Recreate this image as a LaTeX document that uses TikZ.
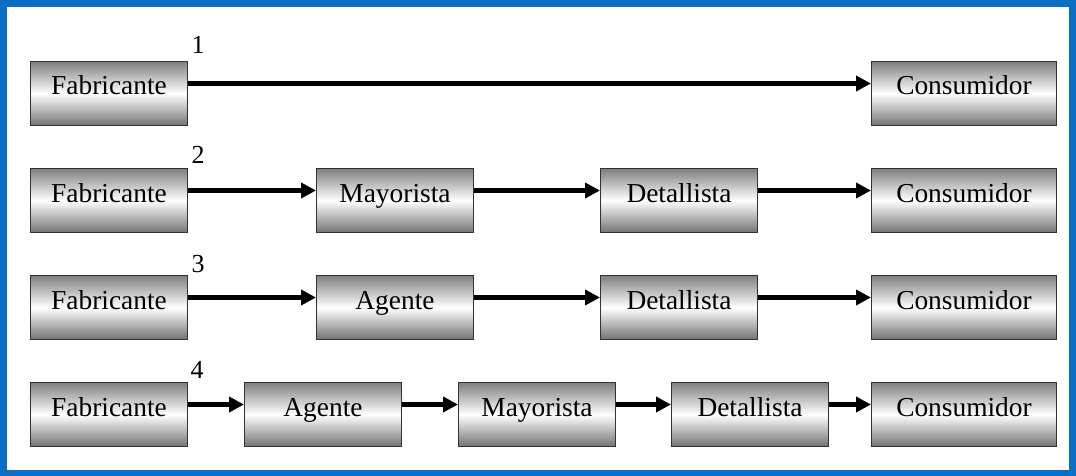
\documentclass[tikz,border=0pt]{standalone}
\usepackage{fontspec}
\setmainfont{Liberation Serif}
\usetikzlibrary{positioning, arrows.meta}

\definecolor{frameblue}{RGB}{10,111,194}

\begin{document}
\begin{tikzpicture}[
  x=0.5pt, y=-0.5pt,
  stage/.style={
    rectangle, anchor=north west,
    minimum width=78.5pt, minimum height=32pt,
    inner sep=0pt, text height=8pt, text depth=6.5pt,
    draw=black!80, line width=0.5pt,
    top color=black!50, % grey at the top and bottom...
    bottom color=black!55,
    middle color=white, % white in the middle
    font=\fontsize{13.7pt}{16pt}\selectfont
  },
  last/.style={stage, minimum width=92.5pt},
  num/.style={font=\fontsize{13pt}{15pt}\selectfont, inner sep=0pt},
  flow/.style={-{Triangle[length=7.5pt,width=7.5pt]}, line width=2.2pt}
]
% frame
\useasboundingbox (0,0) rectangle (1076,476);
\fill[frameblue] (0,0) rectangle (1076,476);
\fill[white] (7,7) rectangle (1069,470);

% channel 1
\node [num] (lab1) at (198,45) {1};
\node [stage] (fab1) at (30,61) {Fabricante};
\node [last] (cons1) at (871,61) {Consumidor};
\draw [flow] ([yshift=5pt]fab1.east) -- ([yshift=5pt]cons1.west);

% channel 2
\node [num] (lab2) at (198,155) {2};
\node [stage] (fab2) at (30,168) {Fabricante};
\node [stage] (may2) at (316,168) {Mayorista};
\node [stage] (det2) at (600,168) {Detallista};
\node [last] (cons2) at (871,168) {Consumidor};
\draw [flow] ([yshift=5pt]fab2.east) -- ([yshift=5pt]may2.west);
\draw [flow] ([yshift=5pt]may2.east) -- ([yshift=5pt]det2.west);
\draw [flow] ([yshift=5pt]det2.east) -- ([yshift=5pt]cons2.west);

% channel 3
\node [num] (lab3) at (198,264) {3};
\node [stage] (fab3) at (30,275) {Fabricante};
\node [stage] (age3) at (316,275) {Agente};
\node [stage] (det3) at (600,275) {Detallista};
\node [last] (cons3) at (871,275) {Consumidor};
\draw [flow] ([yshift=5pt]fab3.east) -- ([yshift=5pt]age3.west);
\draw [flow] ([yshift=5pt]age3.east) -- ([yshift=5pt]det3.west);
\draw [flow] ([yshift=5pt]det3.east) -- ([yshift=5pt]cons3.west);

% channel 4
\node [num] (lab4) at (197,370) {4};
\node [stage] (fab4) at (30,382) {Fabricante};
\node [stage] (age4) at (244,382) {Agente};
\node [stage] (may4) at (458,382) {Mayorista};
\node [stage] (det4) at (671,382) {Detallista};
\node [last] (cons4) at (871,382) {Consumidor};
\draw [flow] ([yshift=5pt]fab4.east) -- ([yshift=5pt]age4.west);
\draw [flow] ([yshift=5pt]age4.east) -- ([yshift=5pt]may4.west);
\draw [flow] ([yshift=5pt]may4.east) -- ([yshift=5pt]det4.west);
\draw [flow] ([yshift=5pt]det4.east) -- ([yshift=5pt]cons4.west);
\end{tikzpicture}
\end{document}
